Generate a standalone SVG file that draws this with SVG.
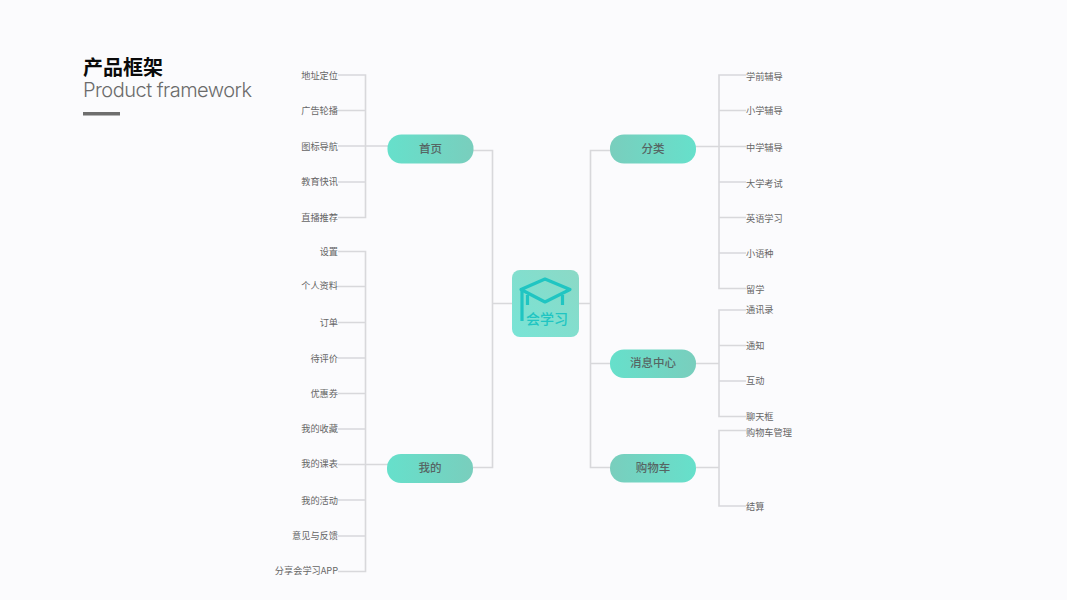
<svg xmlns="http://www.w3.org/2000/svg" width="1067" height="600" viewBox="0 0 1067 600">
<defs>
<linearGradient id="gl" x1="0" y1="0" x2="1" y2="0"><stop offset="0" stop-color="#66e0cb"/><stop offset="1" stop-color="#79cebd"/></linearGradient>
<linearGradient id="gr" x1="1" y1="0" x2="0" y2="0"><stop offset="0" stop-color="#66e0cb"/><stop offset="1" stop-color="#79cebd"/></linearGradient>
<linearGradient id="gi" x1="0" y1="1" x2="1" y2="0"><stop offset="0" stop-color="#78e4d6"/><stop offset="1" stop-color="#8cd9c6"/></linearGradient>
</defs>
<style>
text{font-family:"Noto Sans CJK SC","Noto Sans",sans-serif}
.c{fill:none;stroke:#d8d8db;stroke-width:1.6}
.n{font-size:11.5px;font-weight:500;fill:#566563;text-anchor:middle}
.l{font-size:9.2px;fill:#666;text-anchor:end}
.r{font-size:9.2px;fill:#666}
.ic{fill:none;stroke:#20c5c2;stroke-width:3.200;stroke-linejoin:round}
</style>
<rect width="1067" height="600" fill="#fbfbfd"/>
<g id="title">
<text x="83" y="75" font-size="20" font-weight="700" fill="#0a0a0a">产品框架</text>
<text x="83" y="97" font-size="20" font-weight="300" fill="#6b6b6b" textLength="169" style="font-family:Inter,'Noto Sans',sans-serif">Product framework</text>
<rect x="83" y="112" width="37" height="3.500" fill="#6e6e6e"/>
</g>
<g id="connectors">
<path class="c" d="M338 75H365.500V217.500H338M338 110.500H365.500M338 146H388M338 182H365.500"/>
<path class="c" d="M338 251.500H365.500V571.500H338M338 286.500H365.500M338 322.500H365.500M338 358H365.500M338 393.500H365.500M338 429H365.500M338 464.500H388M338 500H365.500M338 536H365.500"/>
<path class="c" d="M473 150.500H492.500V467.500H473M492.500 303.500H512"/>
<path class="c" d="M610 150.500H590.500V467.500H610M579 303.500H590.500M590.500 363.500H610"/>
<path class="c" d="M696 146.500H719M746 75H719V288.500H746M719 110.500H746M719 146.500H746M719 182H746M719 217.500H746M719 253H746"/>
<path class="c" d="M696 363.500H719M746 310H719V416.500H746M719 345.500H746M719 381H746"/>
<path class="c" d="M696 467.500H719M746 430.500H719V506H746"/>
</g>
<g id="center">
<rect x="512" y="270" width="67" height="67" rx="8" fill="url(#gi)"/>
<path class="ic" d="M521 289.500L545 279L570 289.500L545 302Z"/>
<path class="ic" stroke-width="2.200" d="M522 290V321M527.500 295V305M562.500 295V305"/>
<text x="547" y="324" font-size="14" font-weight="500" fill="#20c5c2" text-anchor="middle">会学习</text>
</g>
<g id="n-home"><rect x="387.500" y="134.500" width="86" height="29" rx="14" fill="url(#gl)"/><text class="n" x="430.500" y="152.500">首页</text></g>
<g id="n-mine"><rect x="387" y="454" width="86" height="29" rx="14" fill="url(#gl)"/><text class="n" x="430" y="471.500">我的</text></g>
<g id="n-cat"><rect x="610" y="134.500" width="86" height="29" rx="14" fill="url(#gr)"/><text class="n" x="653" y="152.500">分类</text></g>
<g id="n-msg"><rect x="610" y="349.500" width="86" height="28.500" rx="14" fill="url(#gl)"/><text class="n" x="653" y="367">消息中心</text></g>
<g id="n-cart"><rect x="610" y="454" width="86" height="28.500" rx="14" fill="url(#gr)"/><text class="n" x="653" y="471.500">购物车</text></g>
<g id="labels-left">
<text class="l" x="338" y="78.500">地址定位</text>
<text class="l" x="338" y="114">广告轮播</text>
<text class="l" x="338" y="149.500">图标导航</text>
<text class="l" x="338" y="185">教育快讯</text>
<text class="l" x="338" y="220.500">直播推荐</text>
<text class="l" x="338" y="255">设置</text>
<text class="l" x="338" y="288.500">个人资料</text>
<text class="l" x="338" y="326">订单</text>
<text class="l" x="338" y="361.500">待评价</text>
<text class="l" x="338" y="397">优惠券</text>
<text class="l" x="338" y="431.500">我的收藏</text>
<text class="l" x="338" y="467">我的课表</text>
<text class="l" x="338" y="503.500">我的活动</text>
<text class="l" x="338" y="539">意见与反馈</text>
<text class="l" x="338" y="574">分享会学习APP</text>
</g>
<g id="labels-right">
<text class="r" x="746" y="80">学前辅导</text>
<text class="r" x="746" y="113.500">小学辅导</text>
<text class="r" x="746" y="151">中学辅导</text>
<text class="r" x="746" y="186.500">大学考试</text>
<text class="r" x="746" y="221.500">英语学习</text>
<text class="r" x="746" y="257">小语种</text>
<text class="r" x="746" y="292.500">留学</text>
<text class="r" x="746" y="312.500">通讯录</text>
<text class="r" x="746" y="348.500">通知</text>
<text class="r" x="746" y="384">互动</text>
<text class="r" x="746" y="419.500">聊天框</text>
<text class="r" x="746" y="435.500">购物车管理</text>
<text class="r" x="746" y="510">结算</text>
</g>
</svg>
